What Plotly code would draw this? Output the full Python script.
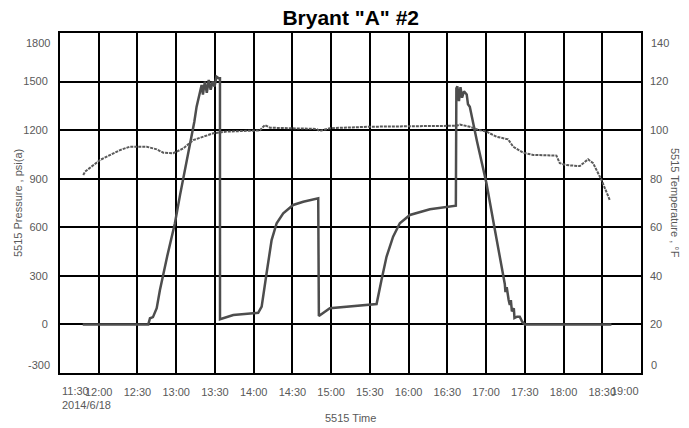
import plotly.graph_objects as go

DAY = "2014-06-18 "

# Pressure (psi(a)) vs time
p_time = ["11:47:36", "12:38:24", "12:39:42", "12:42:00", "12:44:54", "12:47:24", "12:53:00",
          "12:59:00", "13:03:00", "13:06:48", "13:09:30", "13:12:00", "13:14:00", "13:15:48",
          "13:17:30", "13:19:42", "13:20:42", "13:22:12", "13:23:42", "13:25:12", "13:26:42",
          "13:28:12", "13:29:42", "13:31:12", "13:32:54", "13:33:54", "13:33:56",
          "13:44:12", "14:03:30", "14:06:12", "14:10:00", "14:13:54", "14:17:48", "14:22:54",
          "14:30:36", "14:38:24", "14:50:00", "14:50:30", "14:59:00", "15:35:12", "15:39:00",
          "15:42:54", "15:48:00", "15:53:12", "16:01:00", "16:16:30", "16:36:36", "16:37:00",
          "16:37:48", "16:39:00", "16:40:12", "16:41:24", "16:42:54", "16:45:00", "16:46:00",
          "16:47:24", "16:53:00", "17:00:18", "17:06:00", "17:11:00", "17:13:12", "17:14:30",
          "17:15:00", "17:16:00", "17:17:30", "17:18:24", "17:19:12", "17:20:00", "17:21:30",
          "17:22:00", "17:24:00", "17:26:06", "17:28:00", "17:30:00", "18:37:06"]
p_val = [0, 0, 38, 45, 100, 213, 420,
         625, 800, 954, 1070, 1180, 1250, 1345,
         1400, 1479, 1420, 1500, 1430, 1510, 1450,
         1500, 1470, 1530, 1520, 1520, 32,
         58, 72, 110, 316, 521, 625, 686,
         738, 758, 779, 52, 100, 126, 274,
         418, 542, 625, 676, 711, 733, 1458,
         1470, 1380, 1465, 1400, 1440, 1420, 1360,
         1345, 1130, 872, 620, 390, 295, 250,
         200, 230, 151, 120, 150, 80, 100,
         40, 48, 48, 17, 0, 0]

# Temperature (°F) vs time
t_time = ["11:48:00", "11:49:24", "12:01:00", "12:16:30", "12:24:12", "12:37:06", "12:44:54",
          "12:50:00", "12:57:42", "13:05:30", "13:13:12", "13:20:54", "13:28:42", "13:39:00",
          "14:04:48", "14:08:42", "14:12:36", "14:48:42", "14:51:18", "14:59:00", "15:30:00",
          "16:16:30", "16:37:06", "16:39:42", "16:47:24", "16:53:54", "17:00:18", "17:08:06",
          "17:17:06", "17:21:00", "17:28:42", "17:36:24", "17:54:30", "17:57:06", "18:02:18",
          "18:12:36", "18:19:00", "18:22:54", "18:24:12", "18:29:24", "18:35:48"]
t_val = [81.5, 82.9, 87.7, 91.8, 93.2, 93.2, 92.1,
         90.7, 90.5, 92.5, 95.9, 97.3, 98.7, 99.4,
         99.9, 102.1, 101.0, 100.5, 99.7, 100.8, 101.4,
         101.7, 101.8, 102.3, 101.4, 100.1, 99.4, 97.3,
         96.2, 93.2, 90.7, 89.8, 89.5, 86.4, 85.6,
         85.2, 88.0, 86.4, 85.0, 79.5, 71.2]

x_ticks = ["12:00", "12:30", "13:00", "13:30", "14:00", "14:30", "15:00", "15:30",
           "16:00", "16:30", "17:00", "17:30", "18:00", "18:30"]
x_start, x_end = "11:30", "19:00"
date_label = "2014/6/18"
p_ticks = [0, 300, 600, 900, 1200, 1500]
p_range = [-300, 1800]
t_ticks = [20, 40, 60, 80, 100, 120]
t_range = [0, 140]

FONT = "Liberation Sans, Arial, sans-serif"
GRAY = "#595959"

fig = go.Figure()
fig.add_trace(go.Scatter(x=[DAY + s for s in p_time], y=p_val, mode="lines",
                         line=dict(color="#4d4d4d", width=2.5), yaxis="y", showlegend=False))
fig.add_trace(go.Scatter(x=[DAY + s for s in t_time], y=t_val, mode="lines",
                         line=dict(color="#5a5a5a", width=2, dash="3px,1px"), yaxis="y2",
                         showlegend=False))

fig.update_layout(
    width=689, height=428,
    margin=dict(l=60, r=48, t=33, b=55, autoexpand=False),
    paper_bgcolor="white", plot_bgcolor="white",
    font=dict(family=FONT, size=11, color=GRAY),
    title=dict(text='Bryant "A" #2', x=0.509, xanchor="center", y=0.958, yanchor="middle",
               font=dict(family=FONT, size=21, color="black", weight="bold")),
    xaxis=dict(type="date", range=[DAY + x_start, DAY + x_end], automargin=False,
               tickvals=[DAY + s for s in x_ticks], ticktext=x_ticks,
               showgrid=True, gridcolor="black", gridwidth=2,
               showline=True, linecolor="black", linewidth=2, mirror=True,
               ticks="", ticklabelstandoff=8, zeroline=False),
    yaxis=dict(range=p_range, tickvals=p_ticks, ticktext=[str(v) for v in p_ticks],
               automargin=False,
               showgrid=True, gridcolor="black", gridwidth=2,
               showline=True, linecolor="black", linewidth=2, mirror=True,
               ticks="", ticklabelstandoff=8, zeroline=False),
    yaxis2=dict(range=t_range, tickvals=t_ticks, ticktext=[str(v) for v in t_ticks],
                automargin=False,
                overlaying="y", side="right", showgrid=False, showline=False,
                ticks="", ticklabelstandoff=8, zeroline=False),
)

ann = [
    dict(text=x_start, x=DAY + x_start, xref="x", xanchor="left", y=0, yref="paper",
         yanchor="top", yshift=-10, showarrow=False),
    dict(text=date_label, x=DAY + x_start, xref="x", xanchor="left", y=0, yref="paper",
         yanchor="top", yshift=-24, showarrow=False),
    dict(text=x_end, x=DAY + x_end, xref="x", xanchor="right", y=0, yref="paper",
         yanchor="top", yshift=-10, showarrow=False),
    dict(text=str(p_range[1]), x=0, xref="paper", xanchor="right", xshift=-8,
         y=p_range[1], yref="y", yanchor="middle", yshift=-10, showarrow=False),
    dict(text=str(p_range[0]), x=0, xref="paper", xanchor="right", xshift=-8,
         y=p_range[0], yref="y", yanchor="middle", yshift=8, showarrow=False),
    dict(text=str(t_range[1]), x=1, xref="paper", xanchor="left", xshift=8,
         y=t_range[1], yref="y2", yanchor="middle", yshift=-10, showarrow=False),
    dict(text=str(t_range[0]), x=1, xref="paper", xanchor="left", xshift=8,
         y=t_range[0], yref="y2", yanchor="middle", yshift=8, showarrow=False),
    dict(text="5515 Pressure , psi(a)", x=0, xref="paper", xanchor="center", xshift=-42,
         y=0.5, yref="paper", textangle=-90, showarrow=False),
    dict(text="5515 Temperature , °F", x=1, xref="paper", xanchor="center", xshift=34,
         y=0.5, yref="paper", textangle=90, showarrow=False),
    dict(text="5515 Time", x=0.5, xref="paper", y=0, yref="paper", yanchor="top",
         yshift=-37, showarrow=False),
]
fig.update_layout(annotations=ann)

fig.write_html("out.html", config={"displayModeBar": False},
               post_script="document.body.style.margin='0';")
